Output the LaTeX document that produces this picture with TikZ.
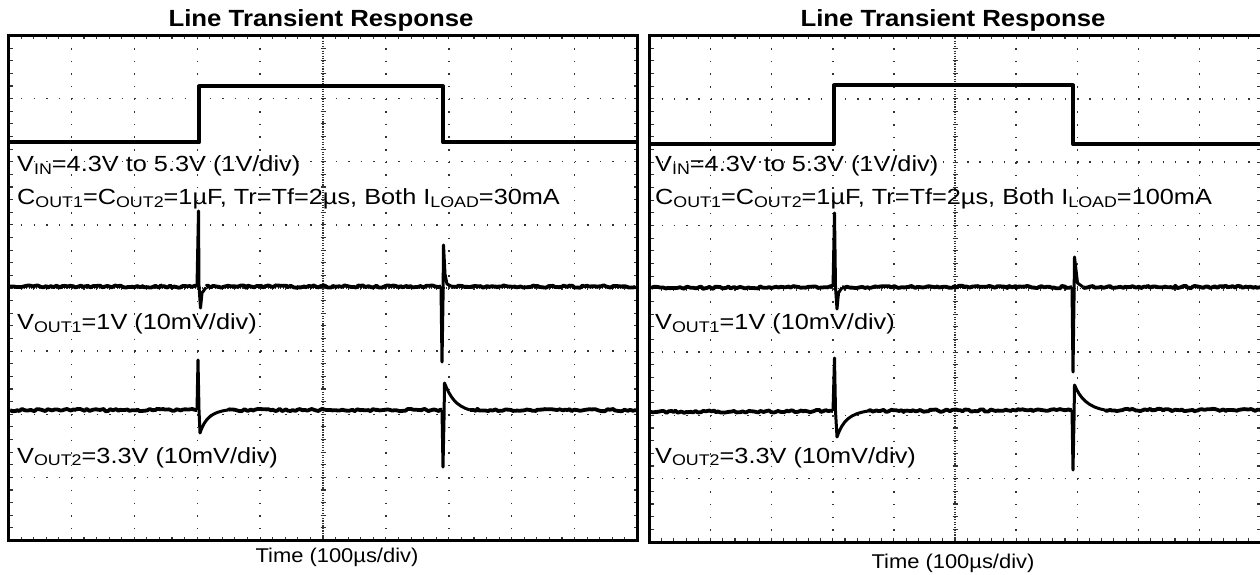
\documentclass[tikz,border=0pt]{standalone}
\usepackage{fontspec}
\setmainfont{Liberation Sans}[FakeStretch=1.1]
\newfontfamily\lblfont{Liberation Sans}[FakeStretch=1.155]
\usetikzlibrary{decorations.pathmorphing}
\newcommand\lsub[1]{\raisebox{-2.5bp}{\fontsize{15.5}{15.5}\selectfont #1}}
\tikzset{
  frame/.style={line width=3bp},
  griddot/.style={line width=1.4bp, black!80},
  tickmark/.style={line width=1.1bp, black!80},
  trace/.style={line width=4bp, line join=round},
  noisy/.style={line width=3.8bp, line join=round, decorate, decoration={random steps, segment length=2.5bp, amplitude=1.2bp}},
  spike/.style={line width=3bp, line join=round},
  lbl/.style={anchor=base west, inner sep=0pt, font=\lblfont\fontsize{22}{22}\selectfont},
  ttl/.style={anchor=base, inner sep=0pt, font=\fontsize{23.5}{23.5}\selectfont\bfseries},
  axl/.style={anchor=base, inner sep=0pt, font=\fontsize{20}{20}\selectfont},
}
\newcommand\panelgrid[4]{%
  \pgfmathsetmacro\pgx{(#3-#1)/10}%
  \pgfmathsetmacro\pgy{(#4-#2)/8}%
  \pgfmathsetmacro\gapx{\pgx/5-1.4}%
  \pgfmathsetmacro\gapy{\pgy/5-1.4}%
  \pgfmathsetmacro\fgapx{\pgx/25-1.2}%
  \pgfmathsetmacro\fgapy{\pgy/25-1.2}%
  \foreach \k in {1,2,3,4,6,7,8,9}{\draw[griddot, dash pattern=on 1.4bp off \gapy bp] ({#1+\k*\pgx},#2) -- ({#1+\k*\pgx},#4);}
  \foreach \k in {1,2,3,5,6,7}{\draw[griddot, dash pattern=on 1.4bp off \gapx bp] (#1,{#2+\k*\pgy}) -- (#3,{#2+\k*\pgy});}
  \draw[griddot, line width=1.2bp, dash pattern=on 1.2bp off \fgapy bp] ({#1+5*\pgx},#2) -- ({#1+5*\pgx},#4);
  \draw[griddot, line width=1.2bp, dash pattern=on 1.2bp off \fgapx bp] (#1,{#2+4*\pgy}) -- (#3,{#2+4*\pgy});
  \foreach \i in {1,...,49}{%
    \draw[tickmark] ({#1+\i*\pgx/5},#2) -- ++(0,4);
    \draw[tickmark] ({#1+\i*\pgx/5},#4) -- ++(0,-4);
    \draw[tickmark] ({#1+\i*\pgx/5},{#2+4*\pgy-2.5}) -- ++(0,5);
  }
  \foreach \j in {1,...,39}{%
    \draw[tickmark] (#1,{#2+\j*\pgy/5}) -- ++(4,0);
    \draw[tickmark] (#3,{#2+\j*\pgy/5}) -- ++(-4,0);
    \draw[tickmark] ({#1+5*\pgx-2.5},{#2+\j*\pgy/5}) -- ++(5,0);
  }
}
\begin{document}
\begin{tikzpicture}[x=1bp, y=-1bp]
\pgfmathsetseed{11}
\useasboundingbox (0,0) rectangle (1260,575);
\fill[white] (0,0) rectangle (1260,575);

% ---------- left panel ----------
\panelgrid{8.5}{35.5}{637.5}{540.5}
\draw[frame] (8.5,35.5) rectangle (637.5,540.5);

\draw[trace] (9,142.5) -- (199,142.5) -- (199,86.5) -- (443,86.5) -- (443,142.5) -- (637,142.5);

\draw[noisy] (10,286.5) -- (197,286.5);
\draw[spike] (197,286.5) -- (198.5,211) -- (199,286) -- (200.5,308) -- (202,293) -- (206,287.5);
\draw[noisy] (206,286.5) -- (441,286.5);
\draw[spike] (441,286.5) -- (442,362) -- (443,300) -- (443.5,245) -- (445,274) -- (447,284) -- (452,286.5);
\draw[noisy] (452,286.5) -- (636,286.5);

\draw[noisy] (10,410) -- (197,410);
\draw[spike] (197,410) -- (198,360) -- (199,410) -- (200,433) .. controls (205,418) and (212,412) .. (228,410);
\draw[noisy] (228,410) -- (442,410);
\draw[spike] (442,410) -- (443,467) -- (444,420) -- (444.5,383) .. controls (450,397) and (456,406) .. (470,410);
\draw[noisy] (470,410) -- (636,410);

\node[ttl] (t1) at (321,27) {Line Transient Response};
\node[lbl] (vin1) at (17,172) {V\lsub{IN}=4.3V to 5.3V (1V/div)};
\node[lbl] (c1) at (17,205) {C\lsub{OUT1}=C\lsub{OUT2}=1µF, Tr=Tf=2µs, Both I\lsub{LOAD}=30mA};
\node[lbl] (vo11) at (17,330) {V\lsub{OUT1}=1V (10mV/div)};
\node[lbl] (vo21) at (17,463) {V\lsub{OUT2}=3.3V (10mV/div)};
\node[axl] (x1) at (337,562) {Time (100µs/div)};

% ---------- right panel ----------
\panelgrid{649.5}{35.5}{1260.5}{542}
\draw[frame] (649.5,35.5) rectangle (1262.5,542);

\draw[trace] (650,144) -- (834,144) -- (834,85.5) -- (1073,85.5) -- (1073,144) -- (1262,144);

\draw[noisy] (651,288) -- (833,287);
\draw[spike] (833,287) -- (834.5,213) -- (835.5,287) -- (837,309) -- (838.5,293) -- (842,287.5);
\draw[noisy] (842,287) -- (1072,287);
\draw[spike] (1072,287) -- (1073,372) -- (1074,300) -- (1074.5,257) -- (1076,270) -- (1077.5,283) -- (1083,287);
\draw[noisy] (1083,287) -- (1261,287);

\draw[noisy] (651,412) -- (833,411);
\draw[spike] (833,411) -- (834.5,358) -- (835.5,411) -- (837,437) .. controls (843,420) and (850,414) .. (868,411);
\draw[noisy] (868,411) -- (1072,410);
\draw[spike] (1072,410) -- (1073,470) -- (1074,420) -- (1074.5,385) .. controls (1080,398) and (1088,407) .. (1105,410);
\draw[noisy] (1105,410) -- (1261,410);

\node[ttl] (t2) at (953,27) {Line Transient Response};
\node[lbl] (vin2) at (655,172) {V\lsub{IN}=4.3V to 5.3V (1V/div)};
\node[lbl] (c2) at (655,205) {C\lsub{OUT1}=C\lsub{OUT2}=1µF, Tr=Tf=2µs, Both I\lsub{LOAD}=100mA};
\node[lbl] (vo12) at (655,330) {V\lsub{OUT1}=1V (10mV/div)};
\node[lbl] (vo22) at (655,463) {V\lsub{OUT2}=3.3V (10mV/div)};
\node[axl] (x2) at (953,568) {Time (100µs/div)};
\end{tikzpicture}
\end{document}
